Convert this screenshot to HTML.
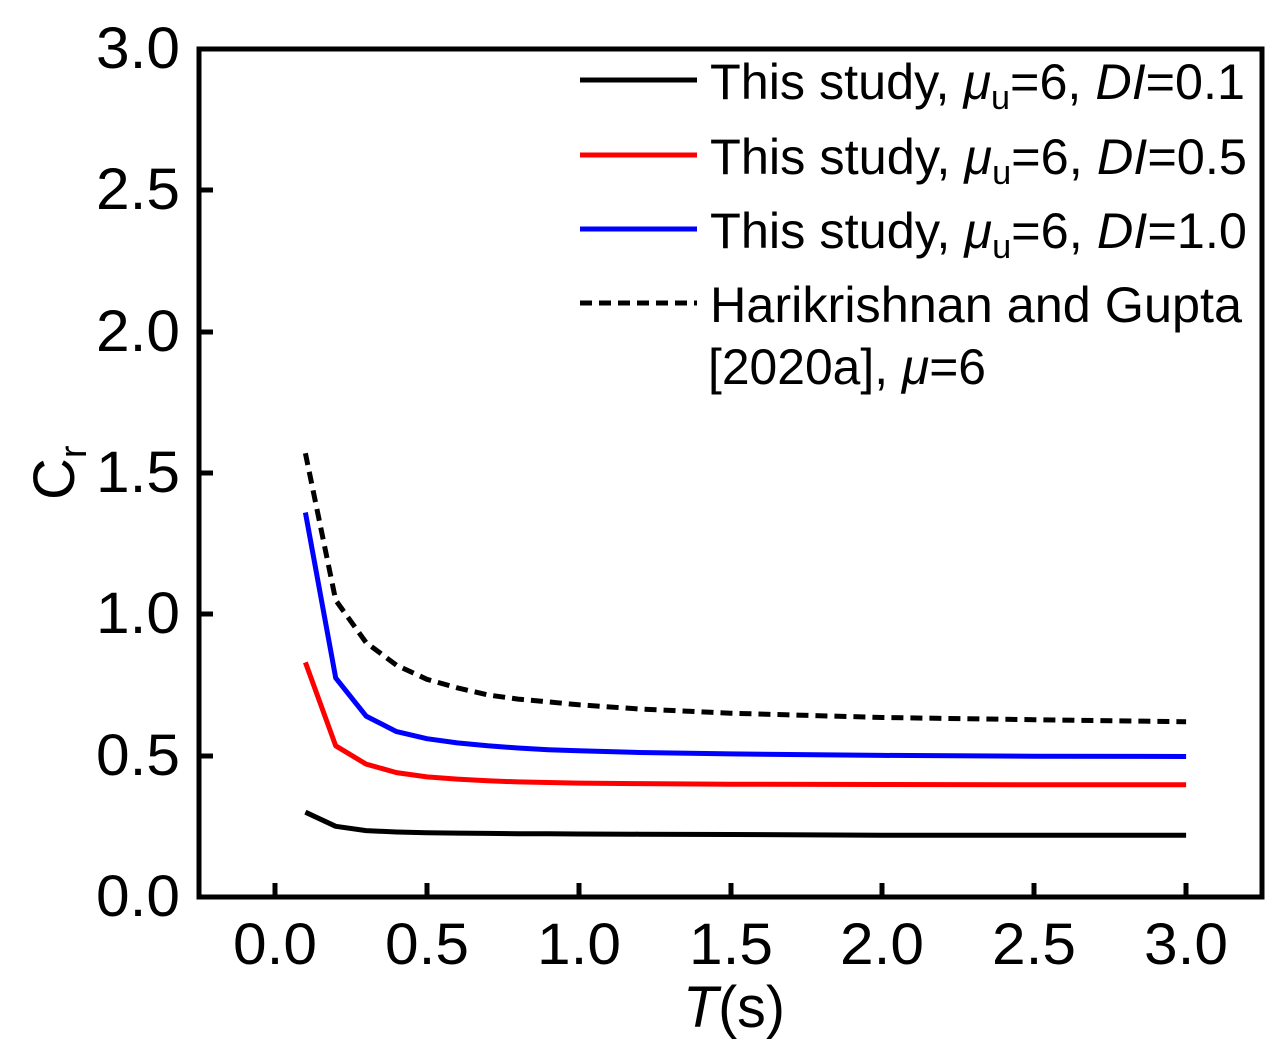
<!DOCTYPE html>
<html><head><meta charset="utf-8"><style>body{margin:0;background:#fff}svg{display:block}text{font-family:"Liberation Sans",Arial,sans-serif;fill:#000}</style></head>
<body>
<svg width="1275" height="1054" viewBox="0 0 1275 1054" xmlns="http://www.w3.org/2000/svg">
<rect x="0" y="0" width="1275" height="1054" fill="#fff"/>
<g stroke="#000" stroke-width="5" fill="none">
<rect x="199" y="49" width="1063" height="848"/>
<path d="M275 897v-14M427 897v-14M579 897v-14M731 897v-14M882 897v-14M1034 897v-14M1186 897v-14"/>
<path d="M199 756h14M199 614h14M199 473h14M199 332h14M199 190h14"/>
</g>
<g font-size="58">
<text x="96" y="916" textLength="84" lengthAdjust="spacingAndGlyphs">0.0</text>
<text x="96" y="775" textLength="84" lengthAdjust="spacingAndGlyphs">0.5</text>
<text x="96" y="633" textLength="84" lengthAdjust="spacingAndGlyphs">1.0</text>
<text x="96" y="492" textLength="84" lengthAdjust="spacingAndGlyphs">1.5</text>
<text x="96" y="351" textLength="84" lengthAdjust="spacingAndGlyphs">2.0</text>
<text x="96" y="209" textLength="84" lengthAdjust="spacingAndGlyphs">2.5</text>
<text x="96" y="68" textLength="84" lengthAdjust="spacingAndGlyphs">3.0</text>
</g>
<g font-size="58">
<text x="233" y="964" textLength="84" lengthAdjust="spacingAndGlyphs">0.0</text>
<text x="385" y="964" textLength="84" lengthAdjust="spacingAndGlyphs">0.5</text>
<text x="537" y="964" textLength="84" lengthAdjust="spacingAndGlyphs">1.0</text>
<text x="689" y="964" textLength="84" lengthAdjust="spacingAndGlyphs">1.5</text>
<text x="840" y="964" textLength="84" lengthAdjust="spacingAndGlyphs">2.0</text>
<text x="992" y="964" textLength="84" lengthAdjust="spacingAndGlyphs">2.5</text>
<text x="1144" y="964" textLength="84" lengthAdjust="spacingAndGlyphs">3.0</text>
<text x="683" y="1027" textLength="102" lengthAdjust="spacingAndGlyphs"><tspan font-style="italic">T</tspan>(s)</text>
</g>
<text transform="translate(74,500) rotate(-90)" font-size="58">C<tspan font-size="38" dy="12">r</tspan></text>
<g fill="none" stroke-width="5" stroke-linejoin="round">
<polyline stroke="#000" points="305.4,812.2 335.7,826.3 366.1,830.6 396.5,832 426.9,832.8 457.2,833.1 487.6,833.4 518,833.7 548.3,833.7 578.7,834 639.4,834.2 730.6,834.5 882.4,835.2 1034.3,835.2 1186.1,835.2"/>
<polyline stroke="#f00" points="305.4,662.4 335.7,745.8 366.1,764.1 396.5,772.6 426.9,776.9 457.2,779.1 487.6,780.8 518,781.9 548.3,782.5 578.7,783.1 639.4,783.6 730.6,784.2 882.4,784.5 1034.3,784.8 1186.1,784.8"/>
<polyline stroke="#00f" points="305.4,512.5 335.7,677.9 366.1,716.1 396.5,731.6 426.9,738.7 457.2,742.9 487.6,745.8 518,748 548.3,749.7 578.7,750.8 639.4,752.5 730.6,753.9 882.4,755.4 1034.3,756.2 1186.1,756.5"/>
<polyline stroke="#000" stroke-dasharray="12,7" points="305.4,453.2 335.7,600.2 366.1,642.6 396.5,665.2 426.9,679.3 457.2,687.8 487.6,694.9 518,699.1 548.3,701.9 578.7,704.8 639.4,709 730.6,713.2 882.4,717.5 1034.3,719.7 1186.1,721.7"/>
</g>
<g stroke-width="5">
<line x1="580" y1="80" x2="697" y2="80" stroke="#000"/>
<line x1="580" y1="155" x2="697" y2="155" stroke="#f00"/>
<line x1="580" y1="229" x2="697" y2="229" stroke="#00f"/>
<line x1="580" y1="303" x2="697" y2="303" stroke="#000" stroke-dasharray="12,7"/>
</g>
<g font-size="50">
<text x="710" y="99" textLength="535" lengthAdjust="spacingAndGlyphs">This study, <tspan font-style="italic">μ</tspan><tspan font-size="34" dy="10">u</tspan><tspan dy="-10">=6, </tspan><tspan font-style="italic">DI</tspan>=0.1</text>
<text x="710" y="174" textLength="537" lengthAdjust="spacingAndGlyphs">This study, <tspan font-style="italic">μ</tspan><tspan font-size="34" dy="10">u</tspan><tspan dy="-10">=6, </tspan><tspan font-style="italic">DI</tspan>=0.5</text>
<text x="710" y="248" textLength="537" lengthAdjust="spacingAndGlyphs">This study, <tspan font-style="italic">μ</tspan><tspan font-size="34" dy="10">u</tspan><tspan dy="-10">=6, </tspan><tspan font-style="italic">DI</tspan>=1.0</text>
<text x="710" y="322" textLength="532" lengthAdjust="spacingAndGlyphs">Harikrishnan and Gupta</text>
<text x="708" y="384" textLength="278" lengthAdjust="spacingAndGlyphs">[2020a], <tspan font-style="italic">μ</tspan>=6</text>
</g>
</svg>
</body></html>
